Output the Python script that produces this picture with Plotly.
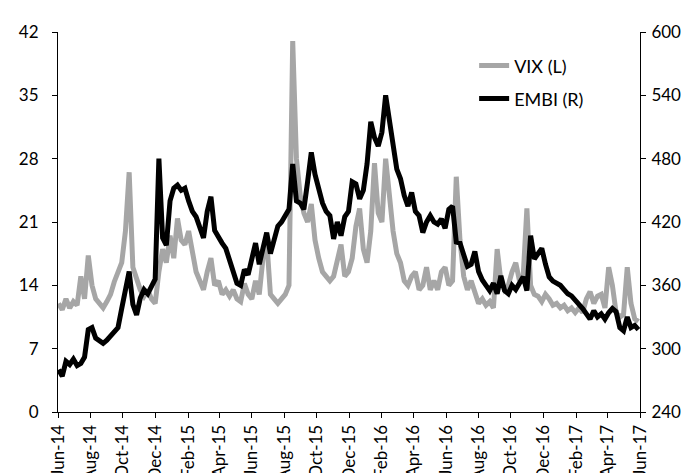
import pandas as pd
import plotly.graph_objects as go

# Weekly observations, Jun-2014 .. May-2017
dates = pd.date_range("2014-06-02", periods=157, freq="7D")

vix = [12.0, 11.3, 12.5, 11.5, 12.2, 11.8, 15.0, 12.5, 17.3, 14.0,
       12.5, 12.0, 11.5, 12.2, 13.0, 14.4, 15.5, 16.5, 20.0, 26.5,
       16.0, 14.5, 13.5, 12.8, 13.5, 12.5, 12.0, 15.5, 18.0, 16.5,
       19.5, 17.0, 21.4, 19.0, 18.5, 20.0, 17.5, 15.5, 14.5, 13.5,
       15.5, 17.0, 14.0, 14.5, 13.0, 13.5, 12.8, 13.5, 12.5, 12.2,
       14.2, 13.0, 12.5, 14.5, 13.0, 17.0, 19.0, 13.0, 12.5, 12.0,
       12.5, 13.0, 14.0, 41.0, 28.0, 24.0, 22.0, 21.0, 23.0, 19.0,
       17.0, 15.5, 15.0, 14.5, 15.0, 16.5, 18.5, 15.0, 15.5, 17.0,
       20.5, 22.5, 18.0, 16.5, 20.0, 27.5, 22.0, 21.0, 28.0, 24.0,
       20.0, 17.5, 16.5, 14.5, 14.0, 15.0, 15.5, 13.5, 14.0, 16.0,
       13.5, 14.5, 13.5, 15.5, 16.0, 14.0, 14.5, 26.0, 19.0, 15.0,
       13.5, 14.5, 13.0, 12.0, 12.5, 11.8, 12.2, 11.5, 18.0, 14.5,
       13.5, 14.0, 15.5, 16.5, 14.5, 15.0, 22.5, 14.0, 13.0, 12.8,
       12.2, 13.0, 12.5, 11.8, 12.0, 11.5, 11.8, 11.2, 11.5, 11.0,
       11.5, 11.0, 12.5, 13.3, 12.0, 12.8, 13.0, 11.5, 16.0, 14.0,
       11.0, 10.5, 10.8, 16.0, 12.0, 10.3, 10.0]

embi = [280, 274, 288, 285, 290, 284, 286, 292, 318, 320,
        310, 307, 305, 308, 312, 316, 320, 338, 355, 373,
        342, 332, 348, 356, 352, 358, 366, 480, 405, 398,
        440, 452, 455, 450, 452, 440, 430, 425, 416, 405,
        430, 444, 412, 405, 400, 395, 385, 372, 362, 360,
        375, 370, 385, 400, 380, 395, 410, 390, 405, 416,
        420, 426, 432, 475, 440, 438, 432, 458, 486, 465,
        449, 438, 430, 426, 404, 420, 407, 425, 430, 458,
        456, 442, 450, 475, 515, 500, 492, 505, 540, 515,
        492, 470, 461, 445, 435, 448, 430, 426, 410, 420,
        426, 420, 418, 423, 414, 432, 435, 401, 400, 390,
        378, 380, 392, 373, 365, 360, 355, 362, 352, 369,
        355, 352, 360, 356, 362, 368, 355, 407, 385, 390,
        395, 380, 368, 364, 362, 360, 356, 352, 350, 345,
        342, 338, 332, 328, 336, 330, 333, 328, 334, 338,
        335, 320, 317, 330, 320, 322, 318]

tick_dates = pd.date_range("2014-06-01", "2017-06-01", freq="2MS")
tick_labels = ["Jun-14", "Aug-14", "Oct-14", "Dec-14", "Feb-15", "Apr-15",
               "Jun-15", "Aug-15", "Oct-15", "Dec-15", "Feb-16", "Apr-16",
               "Jun-16", "Aug-16", "Oct-16", "Dec-16", "Feb-17", "Apr-17",
               "Jun-17"]

FONT = "Lato, Open Sans, sans-serif"
TICK = 17

fig = go.Figure()
fig.add_trace(go.Scatter(x=dates, y=vix, name="VIX (L)", mode="lines",
                         line=dict(color="#A6A6A6", width=5), yaxis="y",
                         legend="legend"))
fig.add_trace(go.Scatter(x=dates, y=embi, name="EMBI (R)", mode="lines",
                         line=dict(color="#000000", width=5), yaxis="y2",
                         legend="legend2"))

leg_common = dict(xanchor="left", yanchor="middle",
                  bgcolor="rgba(0,0,0,0)", font=dict(size=18))

fig.update_layout(
    width=691, height=473,
    margin=dict(l=50, r=59, t=24, b=69, autoexpand=False),
    paper_bgcolor="white", plot_bgcolor="white",
    font=dict(family=FONT, size=16, color="#000000"),
    showlegend=True,
    legend=dict(x=0.715, y=0.911, **leg_common),
    legend2=dict(x=0.715, y=0.824, **leg_common),
    xaxis=dict(range=[pd.Timestamp("2014-06-01"), pd.Timestamp("2017-06-01")],
               tickvals=tick_dates, ticktext=tick_labels, tickangle=-90,
               showgrid=False, zeroline=False, showline=True,
               linecolor="#000000", linewidth=1, ticks="outside",
               ticklen=5, tickcolor="#000000", automargin=False,
               tickfont=dict(size=TICK)),
    yaxis=dict(range=[0, 42], dtick=7, tick0=0, showgrid=False,
               zeroline=False, showline=True, linecolor="#000000",
               linewidth=1, ticks="outside", ticklen=5,
               tickcolor="#000000", automargin=False,
               ticklabelstandoff=10, tickfont=dict(size=TICK)),
    yaxis2=dict(range=[240, 600], dtick=60, tick0=240, overlaying="y",
                side="right", showgrid=False, zeroline=False,
                showline=True, linecolor="#000000", linewidth=1,
                ticks="outside", ticklen=5, tickcolor="#000000",
                automargin=False, ticklabelstandoff=2,
                tickfont=dict(size=TICK)),
)

fig.write_html("out.html")
